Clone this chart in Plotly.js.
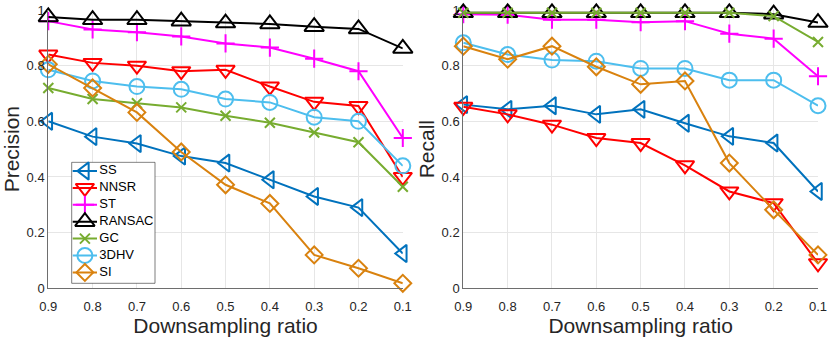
<!DOCTYPE html>
<html>
<head>
<meta charset="utf-8">
<script src="https://cdn.plot.ly/plotly-3.0.1.min.js"></script>
<style>html,body{margin:0;padding:0;background:#fff;}#chart{width:830px;height:340px;}</style>
</head>
<body>
<div id="chart"></div>
<script>
// ---- data ----
var ratios = [0.9, 0.8, 0.7, 0.6, 0.5, 0.4, 0.3, 0.2, 0.1];
var tickLabels = ['0.9', '0.8', '0.7', '0.6', '0.5', '0.4', '0.3', '0.2', '0.1'];
var methods = ['SS', 'NNSR', 'ST', 'RANSAC', 'GC', '3DHV', 'SI'];

var precSS     = [0.600, 0.545, 0.520, 0.475, 0.450, 0.390, 0.330, 0.290, 0.125];
var precNNSR   = [0.840, 0.810, 0.800, 0.780, 0.785, 0.725, 0.670, 0.655, 0.400];
var precST     = [0.960, 0.930, 0.920, 0.905, 0.880, 0.865, 0.825, 0.780, 0.540];
var precRANSAC = [0.975, 0.965, 0.965, 0.960, 0.953, 0.950, 0.940, 0.932, 0.862];
var precGC     = [0.720, 0.680, 0.665, 0.650, 0.620, 0.595, 0.560, 0.525, 0.365];
var prec3DHV   = [0.785, 0.745, 0.725, 0.715, 0.680, 0.668, 0.615, 0.600, 0.440];
var precSI     = [0.805, 0.720, 0.632, 0.490, 0.372, 0.305, 0.120, 0.072, 0.018];

var recSS      = [0.660, 0.643, 0.656, 0.625, 0.643, 0.593, 0.546, 0.522, 0.348];
var recNNSR    = [0.652, 0.625, 0.588, 0.540, 0.522, 0.442, 0.348, 0.306, 0.090];
var recST      = [0.985, 0.983, 0.965, 0.965, 0.956, 0.960, 0.915, 0.897, 0.762];
var recRANSAC  = [0.990, 0.990, 0.990, 0.990, 0.990, 0.990, 0.990, 0.985, 0.955];
var recGC      = [0.990, 0.990, 0.990, 0.990, 0.990, 0.990, 0.990, 0.978, 0.885];
var rec3DHV    = [0.882, 0.840, 0.820, 0.816, 0.790, 0.790, 0.748, 0.748, 0.656];
var recSI      = [0.870, 0.823, 0.870, 0.796, 0.733, 0.745, 0.450, 0.282, 0.120];

// ---- styles ----
var colors  = ['#0072BD', '#FF0000', '#FF00FF', '#000000', '#77AC30', '#4DBEEE', '#D9820F'];
var symbols = ['triangle-left-open', 'triangle-down-open', 'cross-thin-open', 'triangle-up-open', 'x-thin-open', 'circle-open', 'diamond-open'];
var sizes   = [15, 16, 13, 17, 10, 15, 13];

var precision = [precSS, precNNSR, precST, precRANSAC, precGC, prec3DHV, precSI];
var recall    = [recSS, recNNSR, recST, recRANSAC, recGC, rec3DHV, recSI];

var FONT = 'Liberation Sans, Arial, Helvetica, sans-serif';
var TXT = '#262626';

var traces = [];
function addSeries(ys, i, xa, ya) {
  traces.push({
    type: 'scatter', mode: 'lines+markers', x: ratios, y: ys,
    xaxis: xa, yaxis: ya, name: methods[i], showlegend: false, cliponaxis: false,
    line: {color: colors[i], width: 2},
    marker: {symbol: symbols[i], size: sizes[i], color: colors[i], line: {color: colors[i], width: 2}}
  });
}
for (var i = 0; i < methods.length; i++) addSeries(precision[i], i, 'x', 'y');
for (var i = 0; i < methods.length; i++) addSeries(recall[i], i, 'x2', 'y2');

// ---- custom legend box (in its own small axes, pixel-like units) ----
var LW = 83.3, LH = 121, ROW0 = 8.7, ROWH = 16.9;
traces.push({
  type: 'scatter', mode: 'lines', xaxis: 'x3', yaxis: 'y3', showlegend: false, hoverinfo: 'skip',
  x: [0, LW, LW, 0, 0], y: [0, 0, LH, LH, 0], fill: 'toself', fillcolor: '#ffffff',
  line: {color: '#262626', width: 0.6}
});
var rowsY = [], textX = [];
for (var i = 0; i < methods.length; i++) {
  var yy = ROW0 + ROWH * i;
  rowsY.push(yy); textX.push(27.6);
  traces.push({
    type: 'scatter', mode: 'lines', xaxis: 'x3', yaxis: 'y3', showlegend: false, hoverinfo: 'skip',
    x: [1, 25.3], y: [yy, yy], line: {color: colors[i], width: 2}
  });
  traces.push({
    type: 'scatter', mode: 'markers', xaxis: 'x3', yaxis: 'y3', showlegend: false, hoverinfo: 'skip',
    cliponaxis: false, x: [13.2], y: [yy],
    marker: {symbol: symbols[i], size: sizes[i], color: colors[i], line: {color: colors[i], width: 2}}
  });
}
traces.push({
  type: 'scatter', mode: 'text', xaxis: 'x3', yaxis: 'y3', showlegend: false, hoverinfo: 'skip',
  cliponaxis: false, x: textX, y: rowsY, text: methods, textposition: 'middle right',
  textfont: {family: FONT, size: 13, color: '#000000'}
});

function xAxis(dom, anchor) {
  return {
    domain: dom, anchor: anchor, range: [0.9, 0.1],
    tickmode: 'array', tickvals: ratios, ticktext: tickLabels,
    showgrid: true, gridcolor: '#e6e6e6', gridwidth: 1,
    zeroline: false, showline: true, linecolor: '#6e6e6e', linewidth: 1,
    ticks: 'outside', ticklen: 6, tickcolor: 'rgba(0,0,0,0)',
    tickfont: {family: FONT, size: 13, color: TXT},
    title: {text: 'Downsampling ratio', font: {family: FONT, size: 21, color: TXT}, standoff: 4}
  };
}
function yAxis(dom, anchor, title) {
  return {
    domain: dom, anchor: anchor, range: [0, 1], dtick: 0.2, tick0: 0,
    showgrid: true, gridcolor: '#e6e6e6', gridwidth: 1,
    zeroline: false, showline: true, linecolor: '#6e6e6e', linewidth: 1,
    ticks: '', tickfont: {family: FONT, size: 13, color: TXT},
    title: {text: title, font: {family: FONT, size: 21, color: TXT}, standoff: 1}
  };
}

var yDom = [51.7 / 340, 330 / 340];
var layout = {
  width: 830, height: 340,
  margin: {l: 0, r: 0, t: 0, b: 0},
  paper_bgcolor: '#ffffff', plot_bgcolor: 'rgba(0,0,0,0)',
  showlegend: false,
  font: {family: FONT, color: TXT},
  xaxis: xAxis([48.3 / 830, 402.8 / 830], 'y'),
  yaxis: yAxis(yDom, 'x', 'Precision'),
  xaxis2: xAxis([463.3 / 830, 818 / 830], 'y2'),
  yaxis2: yAxis(yDom, 'x2', 'Recall'),
  xaxis3: {domain: [70.7 / 830, 156 / 830], anchor: 'y3', range: [-1, LW + 1], visible: false, fixedrange: true},
  yaxis3: {domain: [(340 - 284.3) / 340, (340 - 161.3) / 340], anchor: 'x3', range: [LH + 1, -1], visible: false, fixedrange: true}
};

Plotly.newPlot('chart', traces, layout, {displayModeBar: false, staticPlot: true});
</script>
</body>
</html>
